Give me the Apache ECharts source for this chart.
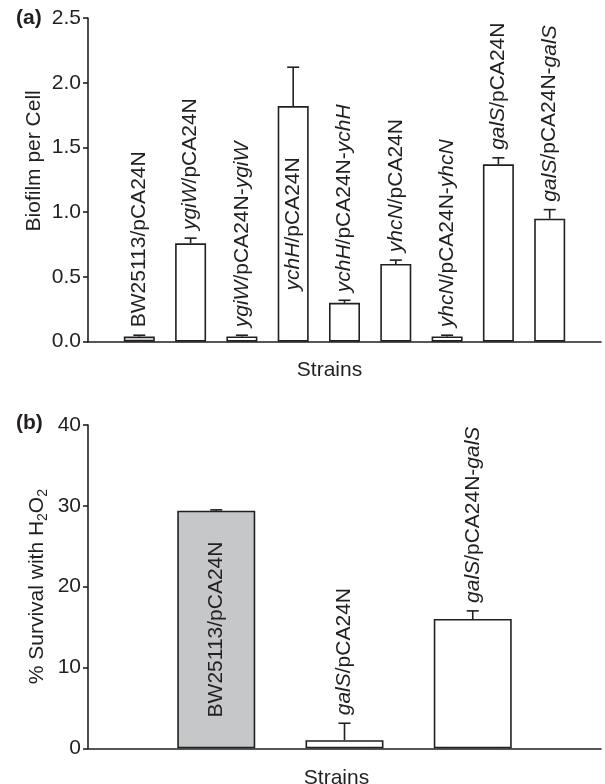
<!DOCTYPE html>
<html><head><meta charset="utf-8">
<script src="https://cdn.jsdelivr.net/npm/echarts@6/dist/echarts.min.js"></script>
<style>html,body{margin:0;padding:0;background:#fff}#c{width:605px;height:784px}</style>
</head><body><div id="c"></div>
<script>
// ---- Panel (a) data ----
const strainsA = ['BW25113/pCA24N', '{i|ygiW}/pCA24N', '{i|ygiW}/pCA24N-{i|ygiW}', '{i|ychH}/pCA24N',
  '{i|ychH}/pCA24N-{i|ychH}', '{i|yhcN}/pCA24N', '{i|yhcN}/pCA24N-{i|yhcN}', '{i|galS}/pCA24N', '{i|galS}/pCA24N-{i|galS}'];
const biofilmMean = [0.04, 0.76, 0.04, 1.82, 0.30, 0.60, 0.04, 1.37, 0.95];
const biofilmErr  = [0.01, 0.04, 0.01, 0.30, 0.02, 0.03, 0.01, 0.05, 0.07];
const labelInsideA = [false, false, false, true, false, false, false, false, false];
const controlA = [true, false, false, false, false, false, false, false, false];
const yTicksA = [0, 0.5, 1.0, 1.5, 2.0, 2.5];

// ---- Panel (b) data ----
const strainsB = ['BW25113/pCA24N', '{i|galS}/pCA24N', '{i|galS}/pCA24N-{i|galS}'];
const survivalMean = [29.4, 1.0, 16.0];
const survivalErr  = [0.1, 2.1, 1.0];
const labelInsideB = [true, false, false];
const controlB = [true, false, false];
const yTicksB = [0, 10, 20, 30, 40];

const INK = '#231f20';
const GRAY = '#c6c7c9';
const FONT = '"Liberation Sans", Arial, Helvetica, sans-serif';
const FS = 21;

const chart = echarts.init(document.getElementById('c'), null, {renderer: 'canvas'});

function barSeries(means, control, xi, bw) {
  return {
    type: 'bar', xAxisIndex: xi, yAxisIndex: xi, barWidth: bw,
    data: means.map((v, i) => ({value: [i + 1, v], itemStyle: {color: control[i] ? GRAY : '#ffffff'}})),
    itemStyle: {borderColor: INK, borderWidth: 1.6},
    silent: true, animation: false
  };
}

function errSeries(means, errs, labels, inside, xi) {
  return {
    type: 'custom', xAxisIndex: xi, yAxisIndex: xi, z: 10, silent: true, animation: false, clip: false,
    data: means.map((v, i) => [i + 1, v, errs[i], i]),
    renderItem(params, api) {
      const x = api.value(0), m = api.value(1), e = api.value(2), idx = api.value(3);
      const p0 = api.coord([x, m]), p1 = api.coord([x, m + e]);
      const cap = 6;
      const children = [
        {type: 'line', shape: {x1: p0[0], y1: p0[1], x2: p1[0], y2: p1[1]}, style: {stroke: INK, lineWidth: 1.6}},
        {type: 'line', shape: {x1: p1[0] - cap, y1: p1[1], x2: p1[0] + cap, y2: p1[1]}, style: {stroke: INK, lineWidth: 1.6}}
      ];
      const ins = inside[idx];
      const pos = ins ? api.coord([x, m / 2]) : [p1[0], p1[1] - 8];
      children.push({
        type: 'text', x: pos[0], y: pos[1], rotation: Math.PI / 2,
        style: {
          text: labels[idx], fill: INK, fontSize: FS, fontFamily: FONT,
          align: ins ? 'center' : 'left', verticalAlign: 'middle',
          rich: {i: {fontStyle: 'italic', fontSize: FS, fontFamily: FONT, fill: INK}}
        }
      });
      return {type: 'group', children};
    }
  };
}

function yAxis(ticks, gi, name, fmt, namePad, nameGap, rich) {
  return {
    type: 'value', gridIndex: gi, min: ticks[0], max: ticks[ticks.length - 1], interval: ticks[1] - ticks[0],
    axisLine: {show: true, lineStyle: {color: INK, width: 1.6}},
    axisTick: {show: true, length: 5, lineStyle: {color: INK, width: 1.6}},
    splitLine: {show: false},
    axisLabel: {formatter: fmt, fontSize: FS, fontFamily: FONT, color: INK, margin: 7},
    name: name, nameLocation: 'middle', nameGap: nameGap, nameMoveOverlap: false,
    nameTextStyle: Object.assign({fontSize: FS, fontFamily: FONT, color: INK, padding: namePad}, rich || {})
  };
}

function xAxis(n, gi, pad, gap) {
  return {
    type: 'value', gridIndex: gi, min: 0, max: n + 1,
    axisLine: {show: true, onZero: false, lineStyle: {color: INK, width: 1.6}},
    axisTick: {show: false}, axisLabel: {show: false}, splitLine: {show: false},
    name: 'Strains', nameLocation: 'middle', nameGap: gap, nameMoveOverlap: false,
    nameTextStyle: {fontSize: FS, fontFamily: FONT, color: INK, padding: pad}
  };
}

const option = {
  backgroundColor: '#ffffff',
  animation: false,
  grid: [
    {left: 88, right: 4, top: 18, bottom: 442.3, outerBoundsMode: 'none', containLabel: false},
    {left: 88, right: 4, top: 425, bottom: 35.7, outerBoundsMode: 'none', containLabel: false}
  ],
  xAxis: [xAxis(strainsA.length, 0, [0, 30, 0, 0], 18), xAxis(strainsB.length, 1, [0, 16, 0, 0], 19)],
  yAxis: [
    yAxis(yTicksA, 0, 'Biofilm per Cell', v => v.toFixed(1), [0, 0, 0, 38], 43),
    yAxis(yTicksB, 1, '% Survival with H{sub|2}O{sub|2}', v => String(v), [0, 0, 0, 0], 38,
      {lineHeight: 26, rich: {sub: {fontSize: 14, fontFamily: FONT, color: INK, verticalAlign: 'bottom', lineHeight: 14}}})
  ],
  graphic: [
    {type: 'text', x: 16, y: 18, style: {text: '(a)', font: 'bold 21px ' + FONT, fill: INK, verticalAlign: 'middle'}},
    {type: 'text', x: 16, y: 423, style: {text: '(b)', font: 'bold 21px ' + FONT, fill: INK, verticalAlign: 'middle'}}
  ],
  series: [
    barSeries(biofilmMean, controlA, 0, 31),
    errSeries(biofilmMean, biofilmErr, strainsA, labelInsideA, 0),
    barSeries(survivalMean, controlB, 1, 78),
    errSeries(survivalMean, survivalErr, strainsB, labelInsideB, 1)
  ]
};
chart.setOption(option);
</script>
</body></html>
